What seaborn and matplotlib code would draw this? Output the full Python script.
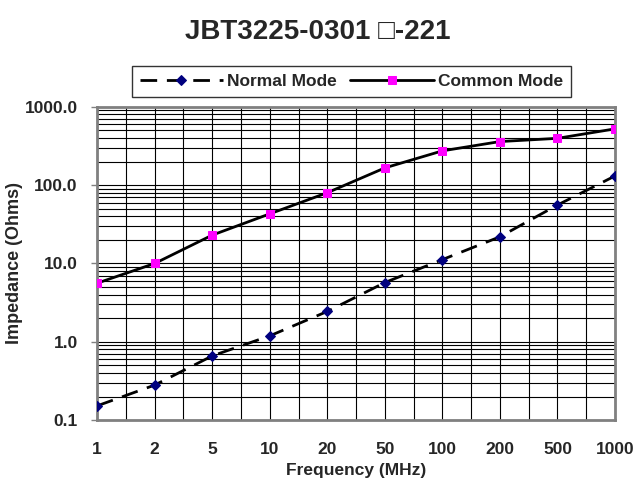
import numpy as np
import pandas as pd
import matplotlib
matplotlib.use('Agg')
import matplotlib.pyplot as plt
import seaborn as sns
from matplotlib.ticker import FixedLocator, LogLocator, NullFormatter

freq_labels = ['1', '2', '5', '10', '20', '50', '100', '200', '500', '1000']
normal_mode = [0.152, 0.28, 0.66, 1.19, 2.44, 5.7, 11.2, 21.9, 55.7, 131]
common_mode = [5.6, 10, 23, 43, 80, 166, 274, 360, 396, 523]

sns.set_style('white')
plt.rcParams['font.family'] = ['Liberation Sans', 'DejaVu Sans']
plt.rcParams['font.weight'] = 'bold'

pos = np.arange(len(freq_labels))
df = pd.DataFrame({'pos': pos, 'Normal Mode': normal_mode, 'Common Mode': common_mode})

fig = plt.figure(figsize=(6.35, 4.79), dpi=100)
ax = fig.add_axes([0.153, 0.123, 0.8155, 0.654])

sns.lineplot(data=df, x='pos', y='Normal Mode', ax=ax, color='black', lw=2,
             marker='D', markersize=5.5, markerfacecolor='#00007f', markeredgecolor='#00007f',
             label='Normal Mode', zorder=3)
ax.lines[-1].set_dashes([6, 3.5])
sns.lineplot(data=df, x='pos', y='Common Mode', ax=ax, color='black', lw=2,
             marker='s', markersize=6, markerfacecolor='#ff00ff', markeredgecolor='#ff00ff',
             label='Common Mode', zorder=3)

ax.set_yscale('log')
ax.set_ylim(0.1, 1000)
ax.set_xlim(0, 9)
ax.set_yticks([0.1, 1, 10, 100, 1000])
ax.set_yticklabels(['0.1', '1.0', '10.0', '100.0', '1000.0'], fontsize=12.5, fontweight='bold')
ax.yaxis.set_minor_locator(LogLocator(base=10, subs=np.arange(2, 10)))
ax.yaxis.set_minor_formatter(NullFormatter())
ax.set_xticks(pos)
ax.set_xticklabels(freq_labels, fontsize=12.5, fontweight='bold')
ax.xaxis.set_minor_locator(FixedLocator(pos[:-1] + 0.5))

ax.grid(True, which='both', axis='both', color='black', lw=0.8)
ax.tick_params(axis='x', which='both', length=0, pad=16)
ax.tick_params(axis='y', which='major', length=4, width=1, color='#808080', direction='out', pad=10, left=True)
ax.tick_params(axis='y', which='minor', length=0)
for s in ax.spines.values():
    s.set_color('#808080')
    s.set_linewidth(2)

ax.set_xlabel('Frequency (MHz)', fontsize=12.5, fontweight='bold', labelpad=4)
ax.set_ylabel('Impedance (Ohms)', fontsize=13, fontweight='bold')
ax.yaxis.set_label_coords(-0.143, 0.5)

fig.text(0.5, 0.933, 'JBT3225-0301 \u25a1-221', fontsize=20, fontweight='bold',
         ha='center', va='center')

leg = ax.legend(loc='lower center', bbox_to_anchor=(0.491, 1.032), ncol=2, frameon=True,
                fancybox=False, edgecolor='black', fontsize=12.5, handlelength=4.8,
                columnspacing=0.75, handletextpad=0.25, borderpad=0.45, borderaxespad=0)
leg.get_frame().set_linewidth(1)
for t in leg.get_texts():
    t.set_fontweight('bold')

fig.savefig('out.png', dpi=100)
